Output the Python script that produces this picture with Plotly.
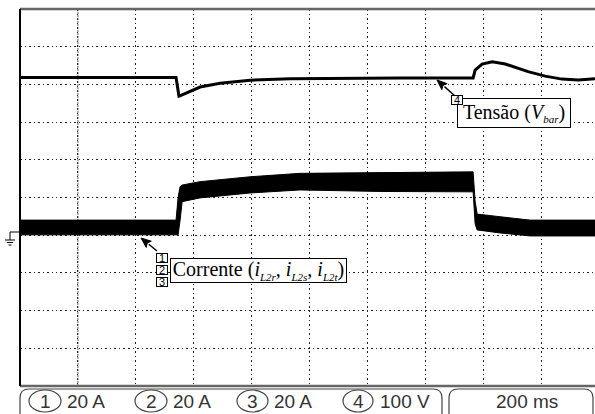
import math
import plotly.graph_objects as go

# ---- data (time in ms, vertical values in screen divisions) ----
t_cur = [0, 539, 546, 553, 560, 622, 795, 967, 1250, 1554, 1565, 1572, 1579, 1658, 1762, 1986]
cur_top = [4.40, 4.40, 5.00, 5.29, 5.33, 5.42, 5.55, 5.64, 5.66, 5.68, 5.68, 4.90, 4.56, 4.49, 4.40, 4.40]
cur_bot = [4.01, 4.01, 4.01, 4.40, 4.89, 4.99, 5.12, 5.20, 5.16, 5.15, 5.15, 4.30, 4.14, 4.06, 3.98, 3.98]

t_volt = [0, 539, 549, 556, 622, 691, 795, 933, 1313, 1565, 1572, 1596, 1631, 1676, 1755, 1814, 1872, 1928, 1986]
volt = [8.18, 8.18, 7.69, 7.71, 7.93, 8.03, 8.11, 8.15, 8.17, 8.17, 8.38, 8.54, 8.60, 8.54, 8.34, 8.22, 8.14, 8.12, 8.15]

channel_labels = ["1", "2", "3", "4"]
channel_scales = ["20 A", "20 A", "20 A", "100 V"]
timebase = "200 ms"

# ---- layout helpers (pixel -> paper) ----
W, H = 595, 414
L, R, T, B = 20, 0, 9, 28
PW, PH = W - L - R, H - T - B


def px(x):
    return (x - L) / PW


def py(y):
    return (H - B - y) / PH


fig = go.Figure()
fig.add_trace(go.Scatter(x=t_cur, y=cur_bot, mode="lines", line=dict(color="black", width=1),
                         showlegend=False, hoverinfo="skip"))
fig.add_trace(go.Scatter(x=t_cur, y=cur_top, mode="lines", line=dict(color="black", width=1),
                         fill="tonexty", fillcolor="black", showlegend=False, hoverinfo="skip"))
fig.add_trace(go.Scatter(x=t_volt, y=volt, mode="lines", line=dict(color="black", width=3),
                         showlegend=False, hoverinfo="skip"))

shapes = []
# trigger-position dashed line
shapes.append(dict(type="line", xref="x", yref="y", x0=200, x1=200, y0=0, y1=10,
                   line=dict(color="#999", width=1.5, dash="2px,1px"), layer="below"))
# borders
shapes.append(dict(type="line", xref="paper", yref="paper", x0=0, x1=1, y0=1, y1=1,
                   line=dict(color="#666", width=2.5)))
shapes.append(dict(type="line", xref="paper", yref="paper", x0=0, x1=1, y0=0, y1=0,
                   line=dict(color="#666", width=2.5)))
shapes.append(dict(type="line", xref="paper", yref="paper", x0=0, x1=0, y0=0, y1=1,
                   line=dict(color="black", width=2)))
# ground marker
gx = 10
shapes.append(dict(type="path", xref="paper", yref="paper",
                   path=f"M {px(20)} {py(232)} L {px(gx)} {py(232)} L {px(gx)} {py(240)}",
                   line=dict(color="black", width=1)))
for yy, hw in [(240, 5), (242.5, 3.2), (245, 1.5)]:
    shapes.append(dict(type="line", xref="paper", yref="paper", x0=px(gx - hw), x1=px(gx + hw),
                       y0=py(yy), y1=py(yy), line=dict(color="black", width=1)))


def rounded_box(x0, x1, y0, y1, r):
    return (f"M {px(x0 + r)} {py(y0)} L {px(x1 - r)} {py(y0)} "
            f"Q {px(x1)} {py(y0)} {px(x1)} {py(y0 + r)} L {px(x1)} {py(y1 - r)} "
            f"Q {px(x1)} {py(y1)} {px(x1 - r)} {py(y1)} L {px(x0 + r)} {py(y1)} "
            f"Q {px(x0)} {py(y1)} {px(x0)} {py(y1 - r)} L {px(x0)} {py(y0 + r)} "
            f"Q {px(x0)} {py(y0)} {px(x0 + r)} {py(y0)} Z")


def arrow(tipx, tipy, tailx, taily, head=10, half=4):
    dx, dy = tipx - tailx, tipy - taily
    n = math.hypot(dx, dy)
    ux, uy = dx / n, dy / n
    bx, by = tipx - head * ux, tipy - head * uy
    lx, ly = bx - half * uy, by + half * ux
    rx, ry = bx + half * uy, by - half * ux
    return [
        dict(type="line", xref="paper", yref="paper", x0=px(tailx), y0=py(taily), x1=px(bx), y1=py(by),
             line=dict(color="black", width=1.4)),
        dict(type="path", xref="paper", yref="paper",
             path=f"M {px(tipx)} {py(tipy)} L {px(lx)} {py(ly)} L {px(bx + 2 * ux)} {py(by + 2 * uy)} L {px(rx)} {py(ry)} Z",
             fillcolor="black", line=dict(color="black", width=1)),
    ]


shapes += arrow(437, 80, 455, 96)
shapes += arrow(141, 238, 157, 251)

shapes.append(dict(type="path", xref="paper", yref="paper", path=rounded_box(20, 442, 389, 422, 9),
                   line=dict(color="#444", width=1.2)))
shapes.append(dict(type="path", xref="paper", yref="paper", path=rounded_box(449, 593, 389, 422, 9),
                   line=dict(color="#444", width=1.2)))

ell = [(29, 61), (135, 167), (237, 268), (343, 373)]
txt_x = [65, 171, 272, 378]
annotations = []
for (e0, e1), lab, sc, tx in zip(ell, channel_labels, channel_scales, txt_x):
    shapes.append(dict(type="circle", xref="paper", yref="paper", x0=px(e0), x1=px(e1),
                       y0=py(412), y1=py(390), line=dict(color="#444", width=1.2)))
    annotations.append(dict(xref="paper", yref="paper", x=px((e0 + e1) / 2), y=py(401.5), text=lab,
                            showarrow=False, xanchor="center", yanchor="middle",
                            font=dict(family="Liberation Sans", size=19, color="#333")))
    annotations.append(dict(xref="paper", yref="paper", x=px(tx), y=py(401.5), text=sc,
                            showarrow=False, xanchor="left", yanchor="middle",
                            font=dict(family="Liberation Sans", size=19, color="#333")))
annotations.append(dict(xref="paper", yref="paper", x=px(527), y=py(401.5), text=timebase,
                        showarrow=False, xanchor="center", yanchor="middle",
                        font=dict(family="Liberation Sans", size=19, color="#333")))

serif = dict(family="Liberation Serif", size=20, color="black")


def sub(s):
    return f"<sub><span style='font-size:11px'><i>{s}</i></span></sub>"


# label boxes
annotations.append(dict(xref="paper", yref="paper", x=px(514), y=py(113),
                        text=f"Tensão (<i>V</i>{sub('bar')})", showarrow=False,
                        xanchor="center", yanchor="middle", width=112, height=28,
                        bgcolor="white", bordercolor="black", borderwidth=1, borderpad=0, font=serif))
annotations.append(dict(xref="paper", yref="paper", x=px(258.5), y=py(270.5),
                        text=f"Corrente (<i>i</i>{sub('L2r')}, <i>i</i>{sub('L2s')}, <i>i</i>{sub('L2t')})",
                        showarrow=False, xanchor="center", yanchor="middle", width=175, height=23,
                        bgcolor="white", bordercolor="black", borderwidth=1, borderpad=0, font=serif))
small = dict(family="Liberation Sans", size=11, color="black")
for lab, (cx, cy) in [("4", (457, 100)), ("1", (162, 258)), ("2", (162, 270)), ("3", (162, 282))]:
    annotations.append(dict(xref="paper", yref="paper", x=px(cx), y=py(cy), text=lab, showarrow=False,
                            xanchor="center", yanchor="middle", width=10, height=8, bgcolor="white",
                            bordercolor="black", borderwidth=1, borderpad=0, font=small))

fig.update_layout(
    width=W, height=H, margin=dict(l=L, r=R, t=T, b=B, pad=0),
    paper_bgcolor="white", plot_bgcolor="white",
    xaxis=dict(range=[0, 1986], dtick=200, tick0=0, showgrid=True, griddash="1.5px,3px",
               gridcolor="#222", gridwidth=1, showticklabels=False, ticks="", zeroline=False,
               showline=False, fixedrange=True),
    yaxis=dict(range=[0, 10], dtick=1, tick0=0, showgrid=True, griddash="1.5px,3px",
               gridcolor="#222", gridwidth=1, showticklabels=False, ticks="", zeroline=False,
               showline=False, fixedrange=True),
    shapes=shapes, annotations=annotations, showlegend=False,
)

fig.write_html("out.html")
